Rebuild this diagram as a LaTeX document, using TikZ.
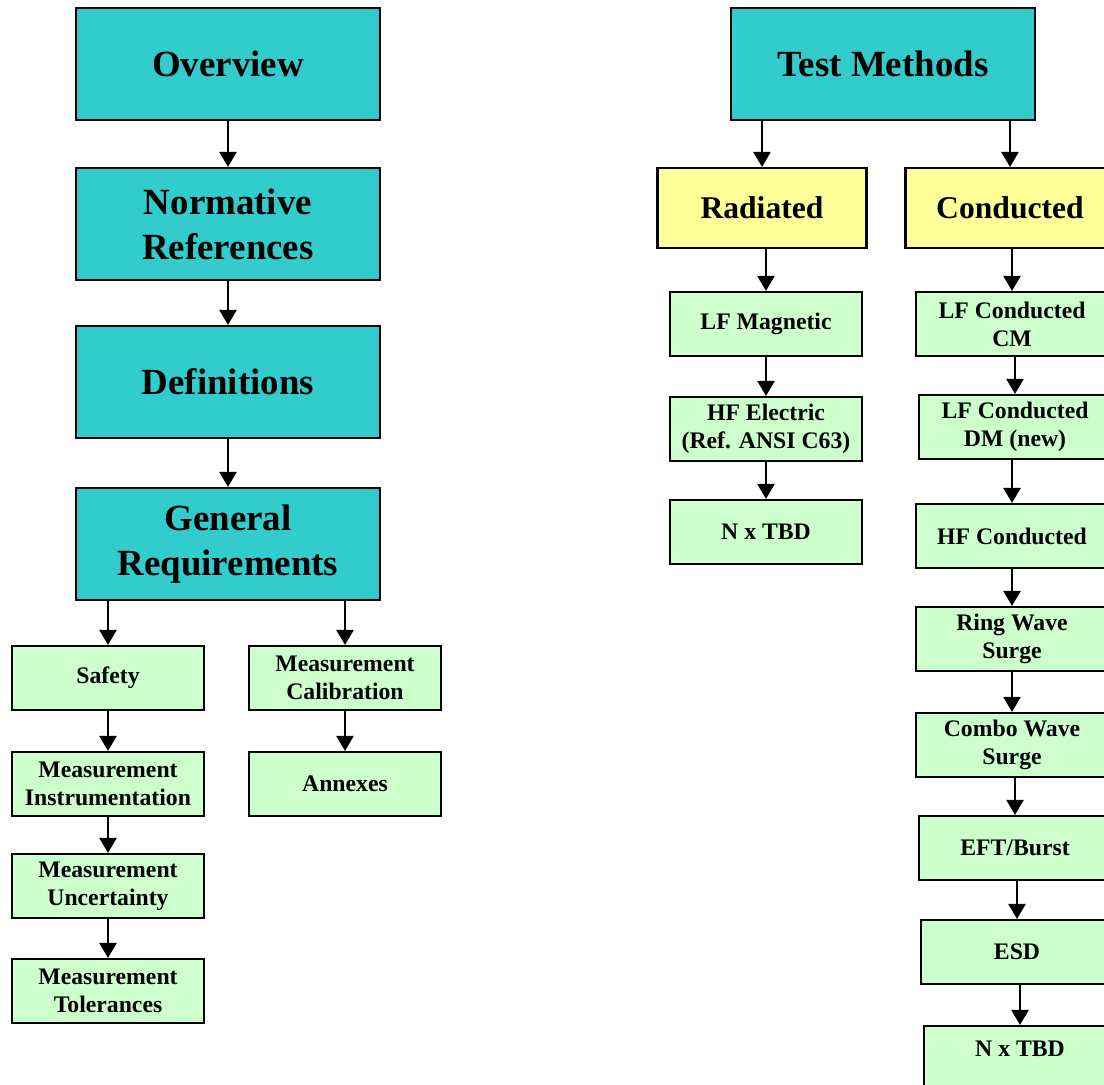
\documentclass[tikz,border=0pt]{standalone}
\usepackage{fontspec}
\setmainfont{Liberation Serif}
\usepackage{tikz}
\usetikzlibrary{arrows.meta}

\definecolor{headcyan}{HTML}{33CCCC}
\definecolor{subyellow}{HTML}{FFFF99}
\definecolor{itemgreen}{HTML}{CCFFCC}

\begin{document}
\begin{tikzpicture}[x=0.02cm, y=-0.02cm,
  box/.style={draw=black, line width=1.2pt, align=center, inner sep=0pt},
  headbox/.style={box, fill=headcyan, minimum width=6.08cm, minimum height=2.24cm,
    font=\bfseries\fontsize{21}{25.5}\selectfont},
  groupbox/.style={box, fill=subyellow, minimum width=4.18cm, minimum height=1.6cm,
    font=\bfseries\fontsize{18}{21}\selectfont},
  itembox/.style={box, fill=itemgreen, minimum width=3.84cm, minimum height=1.28cm,
    font=\bfseries\fontsize{13.5}{16}\selectfont},
  arr/.style={-{Triangle[width=0.34cm,length=0.3cm]}, line width=1.3pt}]

  % page frame (pixel units)
  \clip (0,0) rectangle (1104,1084);

  % Left column: document structure
  \node[headbox] (overview) at (228,64)  {Overview};
  \node[headbox] (normref)  at (228,224) {Normative\\References};
  \node[headbox] (defs)     at (228,382) {Definitions};
  \node[headbox] (genreq)   at (228,544) {General\\Requirements};

  \node[itembox] (safety) at (108,678) {Safety};
  \node[itembox] (instr)  at (108,784) {Measurement\\Instrumentation};
  \node[itembox] (uncert) at (108,886) {Measurement\\Uncertainty};
  \node[itembox] (toler)  at (108,991) {Measurement\\Tolerances};

  \node[itembox] (calib) at (345,678) {Measurement\\Calibration};
  \node[itembox] (annex) at (345,784) {Annexes};

  \draw[arr] (overview) -- (normref);
  \draw[arr] (normref) -- (defs);
  \draw[arr] (defs) -- (genreq);
  \draw[arr] (safety.north |- genreq.south) -- (safety.north);
  \draw[arr] (calib.north |- genreq.south) -- (calib.north);
  \draw[arr] (safety) -- (instr);
  \draw[arr] (instr) -- (uncert);
  \draw[arr] (uncert) -- (toler);
  \draw[arr] (calib) -- (annex);

  % Right column: test methods
  \node[headbox]  (tests) at (883,64)   {Test Methods};
  \node[groupbox] (rad)   at (762,208)  {Radiated};
  \node[groupbox] (cond)  at (1010,208) {Conducted};

  \node[itembox] (lfmag)  at (766,324) {LF Magnetic};
  \node[itembox] (hfelec) at (766,429) {HF Electric\\(Ref. ANSI C63)};
  \node[itembox] (ntbdr)  at (766,532) {N x TBD};

  \node[itembox] (lfcm)   at (1012,324) {LF Conducted\\CM};
  \node[itembox] (lfdm)   at (1015,427) {LF Conducted\\DM (new)};
  \node[itembox] (hfcond) at (1012,536) {HF Conducted};
  \node[itembox] (ring)   at (1012,639) {Ring Wave\\Surge};
  \node[itembox] (combo)  at (1012,745) {Combo Wave\\Surge};
  \node[itembox] (eft)    at (1015,848) {EFT/Burst};
  \node[itembox] (esd)    at (1017,952) {ESD};
  \node[itembox, text depth=0.36cm] (ntbdc) at (1020,1058) {N x TBD};

  \draw[arr] (rad.north |- tests.south) -- (rad.north);
  \draw[arr] (cond.north |- tests.south) -- (cond.north);
  \draw[arr] (lfmag.north |- rad.south) -- (lfmag.north);
  \draw[arr] (hfelec.north |- lfmag.south) -- (hfelec.north);
  \draw[arr] (ntbdr.north |- hfelec.south) -- (ntbdr.north);

  \draw[arr] (lfcm.north |- cond.south) -- (lfcm.north);
  \draw[arr] (lfdm.north |- lfcm.south) -- (lfdm.north);
  \draw[arr] (hfcond.north |- lfdm.south) -- (hfcond.north);
  \draw[arr] (ring.north |- hfcond.south) -- (ring.north);
  \draw[arr] (combo.north |- ring.south) -- (combo.north);
  \draw[arr] (eft.north |- combo.south) -- (eft.north);
  \draw[arr] (esd.north |- eft.south) -- (esd.north);
  \draw[arr] (ntbdc.north |- esd.south) -- (ntbdc.north);
\end{tikzpicture}
\end{document}
